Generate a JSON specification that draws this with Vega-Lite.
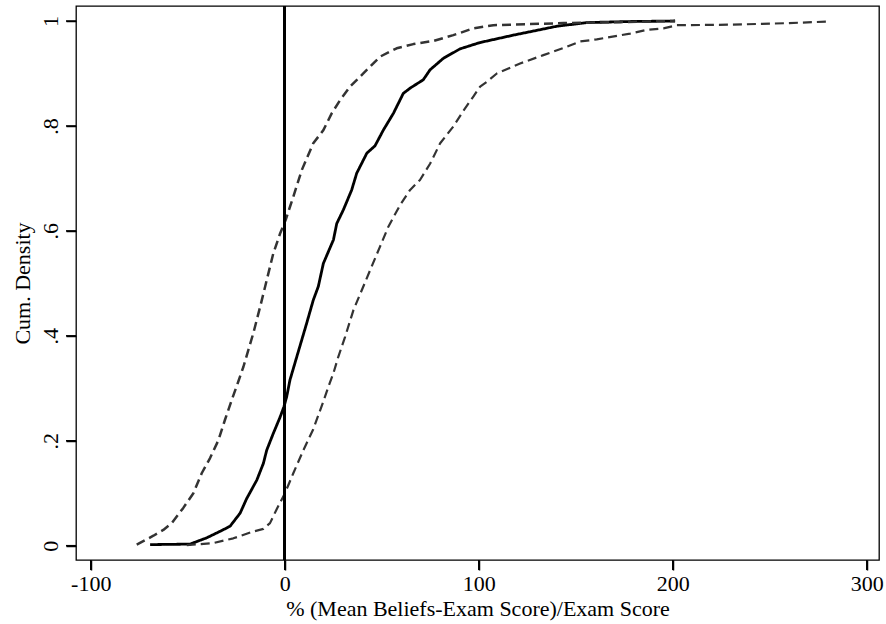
{
  "$schema": "https://vega.github.io/schema/vega-lite/v6.json",
  "autosize": {"type": "none"},
  "padding": {"left": 76, "top": 6, "right": 7, "bottom": 64},
  "width": 803,
  "height": 554,
  "background": "white",
  "config": {
    "view": {"stroke": "black", "strokeWidth": 1.3},
    "font": "Liberation Serif",
    "axis": {"grid": false, "domain": false, "labelColor": "#000000", "titleColor": "#000000", "labelFont": "Liberation Serif", "titleFont": "Liberation Serif", "titleFontWeight": "normal", "labelFontSize": 22, "titleFontSize": 22}
  },
  "datasets": {
    "xticks": [{"v": -100, "lo": -0.0273, "hi": -0.0464}, {"v": 0, "lo": -0.0273, "hi": -0.0464}, {"v": 100, "lo": -0.0273, "hi": -0.0464}, {"v": 200, "lo": -0.0273, "hi": -0.0464}, {"v": 300, "lo": -0.0273, "hi": -0.0464}],
    "yticks": [{"v": 0, "lo": -107.6, "hi": -112.75}, {"v": 0.2, "lo": -107.6, "hi": -112.75}, {"v": 0.4, "lo": -107.6, "hi": -112.75}, {"v": 0.6, "lo": -107.6, "hi": -112.75}, {"v": 0.8, "lo": -107.6, "hi": -112.75}, {"v": 1, "lo": -107.6, "hi": -112.75}],
    "curves": [
      {"series": "cdf", "x": -69.4, "y": 0.002},
      {"series": "cdf", "x": -48.8, "y": 0.003},
      {"series": "cdf", "x": -40.2, "y": 0.015},
      {"series": "cdf", "x": -33.0, "y": 0.028},
      {"series": "cdf", "x": -28.2, "y": 0.037},
      {"series": "cdf", "x": -23.0, "y": 0.062},
      {"series": "cdf", "x": -19.6, "y": 0.090},
      {"series": "cdf", "x": -14.4, "y": 0.125},
      {"series": "cdf", "x": -11.0, "y": 0.157},
      {"series": "cdf", "x": -9.3, "y": 0.182},
      {"series": "cdf", "x": -5.9, "y": 0.214},
      {"series": "cdf", "x": -2.4, "y": 0.245},
      {"series": "cdf", "x": -0.4, "y": 0.265},
      {"series": "cdf", "x": 1.0, "y": 0.284},
      {"series": "cdf", "x": 2.7, "y": 0.316},
      {"series": "cdf", "x": 6.2, "y": 0.360},
      {"series": "cdf", "x": 11.3, "y": 0.424},
      {"series": "cdf", "x": 14.7, "y": 0.468},
      {"series": "cdf", "x": 17.3, "y": 0.494},
      {"series": "cdf", "x": 19.9, "y": 0.538},
      {"series": "cdf", "x": 25.1, "y": 0.583},
      {"series": "cdf", "x": 26.8, "y": 0.614},
      {"series": "cdf", "x": 30.2, "y": 0.640},
      {"series": "cdf", "x": 34.5, "y": 0.678},
      {"series": "cdf", "x": 37.1, "y": 0.710},
      {"series": "cdf", "x": 42.3, "y": 0.748},
      {"series": "cdf", "x": 46.5, "y": 0.762},
      {"series": "cdf", "x": 50.8, "y": 0.792},
      {"series": "cdf", "x": 56.0, "y": 0.824},
      {"series": "cdf", "x": 61.1, "y": 0.862},
      {"series": "cdf", "x": 64.6, "y": 0.872},
      {"series": "cdf", "x": 71.4, "y": 0.888},
      {"series": "cdf", "x": 74.9, "y": 0.907},
      {"series": "cdf", "x": 81.8, "y": 0.929},
      {"series": "cdf", "x": 90.4, "y": 0.947},
      {"series": "cdf", "x": 100.7, "y": 0.959},
      {"series": "cdf", "x": 117.8, "y": 0.973},
      {"series": "cdf", "x": 140.2, "y": 0.990},
      {"series": "cdf", "x": 155.7, "y": 0.997},
      {"series": "cdf", "x": 178.0, "y": 0.999},
      {"series": "cdf", "x": 201.2, "y": 1.0},
      {"series": "upper", "x": -76.3, "y": 0.002},
      {"series": "upper", "x": -67.7, "y": 0.019},
      {"series": "upper", "x": -62.6, "y": 0.030},
      {"series": "upper", "x": -58.2, "y": 0.043},
      {"series": "upper", "x": -52.3, "y": 0.072},
      {"series": "upper", "x": -47.1, "y": 0.100},
      {"series": "upper", "x": -42.8, "y": 0.138},
      {"series": "upper", "x": -38.5, "y": 0.167},
      {"series": "upper", "x": -34.2, "y": 0.201},
      {"series": "upper", "x": -30.8, "y": 0.240},
      {"series": "upper", "x": -27.3, "y": 0.278},
      {"series": "upper", "x": -24.2, "y": 0.310},
      {"series": "upper", "x": -21.3, "y": 0.341},
      {"series": "upper", "x": -16.2, "y": 0.405},
      {"series": "upper", "x": -12.7, "y": 0.455},
      {"series": "upper", "x": -9.3, "y": 0.506},
      {"series": "upper", "x": -5.9, "y": 0.557},
      {"series": "upper", "x": -2.4, "y": 0.595},
      {"series": "upper", "x": 0.5, "y": 0.621},
      {"series": "upper", "x": 2.7, "y": 0.646},
      {"series": "upper", "x": 4.4, "y": 0.665},
      {"series": "upper", "x": 8.8, "y": 0.716},
      {"series": "upper", "x": 14.7, "y": 0.767},
      {"series": "upper", "x": 19.9, "y": 0.792},
      {"series": "upper", "x": 24.2, "y": 0.824},
      {"series": "upper", "x": 28.5, "y": 0.849},
      {"series": "upper", "x": 33.7, "y": 0.875},
      {"series": "upper", "x": 40.5, "y": 0.900},
      {"series": "upper", "x": 49.1, "y": 0.932},
      {"series": "upper", "x": 57.7, "y": 0.948},
      {"series": "upper", "x": 66.3, "y": 0.956},
      {"series": "upper", "x": 76.6, "y": 0.962},
      {"series": "upper", "x": 86.9, "y": 0.973},
      {"series": "upper", "x": 97.2, "y": 0.986},
      {"series": "upper", "x": 107.5, "y": 0.992},
      {"series": "upper", "x": 143.6, "y": 0.996},
      {"series": "upper", "x": 201.2, "y": 1.0},
      {"series": "lower", "x": -50.5, "y": 0.001},
      {"series": "lower", "x": -36.8, "y": 0.005},
      {"series": "lower", "x": -26.5, "y": 0.014},
      {"series": "lower", "x": -16.2, "y": 0.027},
      {"series": "lower", "x": -11.0, "y": 0.032},
      {"series": "lower", "x": -7.6, "y": 0.043},
      {"series": "lower", "x": -4.1, "y": 0.070},
      {"series": "lower", "x": 0.1, "y": 0.100},
      {"series": "lower", "x": 4.4, "y": 0.138},
      {"series": "lower", "x": 9.6, "y": 0.182},
      {"series": "lower", "x": 14.7, "y": 0.222},
      {"series": "lower", "x": 19.9, "y": 0.275},
      {"series": "lower", "x": 22.5, "y": 0.303},
      {"series": "lower", "x": 25.1, "y": 0.329},
      {"series": "lower", "x": 27.6, "y": 0.360},
      {"series": "lower", "x": 31.1, "y": 0.398},
      {"series": "lower", "x": 35.4, "y": 0.449},
      {"series": "lower", "x": 40.5, "y": 0.494},
      {"series": "lower", "x": 44.0, "y": 0.525},
      {"series": "lower", "x": 49.1, "y": 0.570},
      {"series": "lower", "x": 53.4, "y": 0.608},
      {"series": "lower", "x": 59.4, "y": 0.649},
      {"series": "lower", "x": 64.6, "y": 0.678},
      {"series": "lower", "x": 69.7, "y": 0.697},
      {"series": "lower", "x": 74.9, "y": 0.728},
      {"series": "lower", "x": 80.1, "y": 0.767},
      {"series": "lower", "x": 86.9, "y": 0.799},
      {"series": "lower", "x": 92.1, "y": 0.829},
      {"series": "lower", "x": 97.2, "y": 0.856},
      {"series": "lower", "x": 100.7, "y": 0.875},
      {"series": "lower", "x": 104.1, "y": 0.884},
      {"series": "lower", "x": 109.3, "y": 0.900},
      {"series": "lower", "x": 121.3, "y": 0.919},
      {"series": "lower", "x": 133.3, "y": 0.935},
      {"series": "lower", "x": 145.4, "y": 0.951},
      {"series": "lower", "x": 152.2, "y": 0.961},
      {"series": "lower", "x": 160.8, "y": 0.965},
      {"series": "lower", "x": 178.0, "y": 0.976},
      {"series": "lower", "x": 186.6, "y": 0.983},
      {"series": "lower", "x": 195.2, "y": 0.986},
      {"series": "lower", "x": 202.1, "y": 0.992},
      {"series": "lower", "x": 230.0, "y": 0.993},
      {"series": "lower", "x": 260.0, "y": 0.996},
      {"series": "lower", "x": 280.2, "y": 0.999}
    ]
  },
  "layer": [
    {
      "data": {"name": "curves"},
      "mark": {"type": "line", "strokeJoin": "round", "strokeCap": "butt"},
      "encoding": {
        "x": {
          "field": "x", "type": "quantitative",
          "scale": {"domain": [-107.6, 306.3], "nice": false, "zero": false},
          "axis": {"values": [-100, 0, 100, 200, 300], "labelExpr": "datum.value < 0 ? '-' + abs(datum.value) : '' + datum.value", "labelFont": "Liberation Serif", "labelFontSize": 22, "labelPadding": 3, "ticks": true, "tickSize": 10, "tickWidth": 1.5, "tickColor": "black", "title": "% (Mean Beliefs-Exam Score)/Exam Score", "titleX": 401.5, "titleY": 55, "titleBaseline": "alphabetic", "titleAlign": "center"}
        },
        "y": {
          "field": "y", "type": "quantitative",
          "scale": {"domain": [-0.0273, 1.0286], "nice": false, "zero": false},
          "axis": {"values": [0, 0.2, 0.4, 0.6, 0.8, 1], "labelExpr": "datum.value == 0 ? '0' : datum.value == 1 ? '1' : replace(format(datum.value, '.1f'), '0.', '.')", "labelFont": "Liberation Serif", "labelFontSize": 22, "labelAngle": 270, "labelAlign": "center", "labelBaseline": "alphabetic", "labelPadding": 9, "ticks": true, "tickSize": 10, "tickWidth": 1.5, "tickColor": "black", "title": "Cum. Density", "titleAngle": 270, "titleX": -47, "titleY": 277, "titleBaseline": "alphabetic", "titleAlign": "center"}
        },
        "detail": {"field": "series", "type": "nominal"},
        "color": {"field": "series", "type": "nominal", "scale": {"domain": ["cdf", "upper", "lower"], "range": ["#000000", "#333333", "#333333"]}, "legend": null},
        "strokeDash": {"field": "series", "type": "nominal", "scale": {"domain": ["cdf", "upper", "lower"], "range": [[1, 0], [9, 5], [9, 5]]}, "legend": null},
        "strokeWidth": {"field": "series", "type": "nominal", "scale": {"domain": ["cdf", "upper", "lower"], "range": [2.8, 2.2, 2.2]}, "legend": null}
      }
    },
    {
      "data": {"name": "curves"},
      "mark": {"type": "rule", "color": "black", "strokeWidth": 1.6},
      "encoding": {
        "x": {"datum": 0, "type": "quantitative"}
      }
    },
    {
      "data": {"name": "xticks"},
      "mark": {"type": "rule", "color": "black", "strokeWidth": 1.5, "clip": false},
      "encoding": {
        "x": {"field": "v", "type": "quantitative"},
        "y": {"field": "lo", "type": "quantitative"},
        "y2": {"field": "hi"}
      }
    },
    {
      "data": {"name": "yticks"},
      "mark": {"type": "rule", "color": "black", "strokeWidth": 1.5, "clip": false},
      "encoding": {
        "y": {"field": "v", "type": "quantitative"},
        "x": {"field": "lo", "type": "quantitative"},
        "x2": {"field": "hi"}
      }
    }
  ]
}
